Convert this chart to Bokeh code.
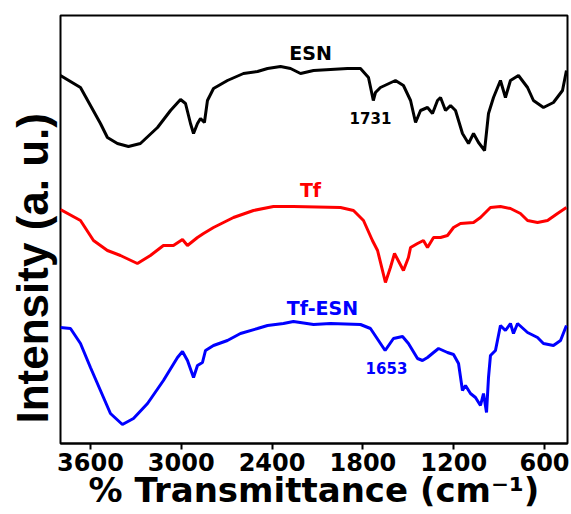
from bokeh.plotting import figure
from bokeh.models import Range1d, FixedTicker, Label, Title
from bokeh.embed import file_html
from bokeh.resources import INLINE

# ---- data (wavenumber cm^-1, intensity a.u.) ----
esn_wn = [3798,3666,3534,3488,3422,3349,3270,3157,3071,3005,2972,2939,2919,2893,2873,2847,2827,2787,2695,2589,
          2496,2430,2344,2278,2212,2126,1902,1816,1763,1731,1717,1684,1585,1532,1485,1452,1419,1373,1340,1307,
          1287,1254,1221,1188,1142,1102,1069,1036,996,970,937,891,858,825,772,712,673,607,541,481,455]
esn_int = [368,356,320,306,300,297,300,316,333,344,340,320,310,320,325,321,343,355,363,370,
           372,375,377,375,370,373,375,375,366,343,351,356,363,358,343,321,333,336,330,343,
           346,333,338,333,310,300,310,301,293,330,346,363,346,363,368,356,343,336,341,353,373]

tf_wn = [3798,3666,3580,3488,3402,3290,3204,3118,3052,2992,2959,2893,2853,2787,2655,2523,2391,2259,1948,1862,
         1796,1737,1703,1651,1618,1591,1532,1499,1485,1439,1400,1373,1333,1287,1241,1201,1155,1069,1023,957,
         891,825,759,712,646,580,514,455]
tf_int = [234,223,203,193,188,180,188,198,198,204,198,206,210,216,226,233,237,237,236,233,
          223,203,193,161,176,190,173,186,196,200,203,196,206,206,208,216,220,221,226,236,
          237,235,230,223,221,223,230,236]

tfesn_wn = [3798,3732,3666,3600,3534,3468,3389,3316,3223,3118,3025,2992,2959,2919,2893,2860,2840,2787,2695,2609,
            2496,2430,2325,2259,2126,2014,1816,1750,1697,1653,1598,1538,1499,1439,1406,1373,1333,1300,1241,1201,
            1168,1142,1122,1089,1056,1023,1003,983,970,957,924,891,858,825,805,778,712,646,607,541,494,455]
tfesn_int = [116,115,100,76,53,30,19,25,40,63,86,92,83,66,78,81,93,98,103,110,
             115,118,120,122,119,120,119,115,103,93,105,107,100,85,83,86,91,95,91,89,
             80,53,58,50,46,38,50,31,66,88,93,118,113,120,110,120,111,106,100,98,103,118]

x_ticks = [3600, 3000, 2400, 1800, 1200, 600]
series_names = ["ESN", "Tf", "Tf-ESN"]
series_colors = ["#000000", "#ff0000", "#0000ff"]
peak_labels = ["1731", "1653"]

p = figure(width=571, height=514, output_backend="svg", toolbar_location=None,
           x_range=Range1d(3798, 448), y_range=Range1d(0, 428),
           min_border_left=60, min_border_right=4, min_border_top=15, min_border_bottom=71)
p.background_fill_color = "white"
p.border_fill_color = "white"
p.grid.visible = False
p.outline_line_color = "black"
p.outline_line_width = 2

p.xaxis.ticker = FixedTicker(ticks=x_ticks)
p.xaxis.axis_line_width = 2
p.xaxis.major_tick_line_width = 2
p.xaxis.major_tick_out = 6
p.xaxis.major_tick_in = 0
p.xaxis.minor_tick_line_color = None
p.xaxis.major_label_standoff = 3
p.xaxis.major_label_text_font = "DejaVu Sans"
p.xaxis.major_label_text_font_style = "bold"
p.xaxis.major_label_text_font_size = "24px"
p.xaxis.major_label_text_color = "black"
p.xaxis.axis_label = "% Transmittance (cm\u207b\u00b9)"
p.xaxis.axis_label_text_font = "DejaVu Sans"
p.xaxis.axis_label_text_font_style = "bold"
p.xaxis.axis_label_text_font_size = "34px"
p.xaxis.axis_label_text_color = "black"
p.xaxis.axis_label_standoff = -4
p.yaxis.visible = False

ytitle = Title(text="Intensity (a. u.)", align="left", offset=20,
               text_font="Liberation Sans", text_font_style="bold",
               text_font_size="44px", text_color="black", standoff=8)
p.add_layout(ytitle, "left")

p.line(esn_wn, esn_int, line_color=series_colors[0], line_width=3)
p.line(tf_wn, tf_int, line_color=series_colors[1], line_width=3)
p.line(tfesn_wn, tfesn_int, line_color=series_colors[2], line_width=3)

def lab(x, y, text, color, size):
    p.add_layout(Label(x=x, y=y, text=text, text_color=color, text_font="DejaVu Sans",
                       text_font_size=size, text_font_style="bold",
                       text_align="center", text_baseline="middle"))

lab(2146, 391, series_names[0], series_colors[0], "19px")
lab(2146, 254, series_names[1], series_colors[1], "19px")
lab(2067, 136, series_names[2], series_colors[2], "19px")
lab(1750, 326, peak_labels[0], series_colors[0], "15px")
lab(1644, 76, peak_labels[1], series_colors[2], "15px")

open("out.html", "w").write(file_html(p, INLINE))
